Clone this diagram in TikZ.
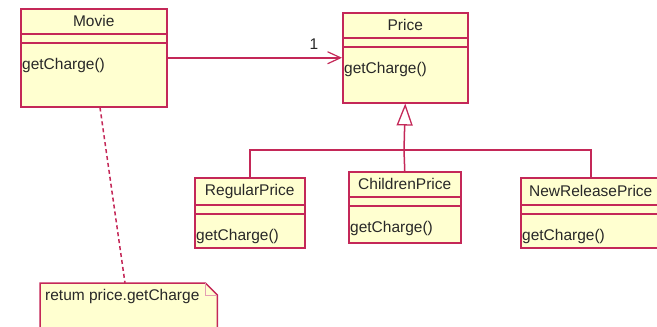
\documentclass[tikz,border=0pt]{standalone}
\usepackage{fontspec}
\setmainfont{Liberation Sans}
\usetikzlibrary{arrows.meta}
\definecolor{umlline}{RGB}{196,40,88}
\definecolor{umlfill}{RGB}{255,255,208}
\definecolor{umltext}{RGB}{40,40,40}
\begin{document}
\begin{tikzpicture}[x=1pt,y=-1pt,
  classbox/.style={draw=umlline,fill=umlfill,line width=1.5pt,rectangle,inner sep=0pt,anchor=north west},
  compline/.style={draw=umlline,line width=1.5pt},
  title/.style={text=umltext,font=\fontsize{15.5}{17}\selectfont,inner sep=0pt},
  oper/.style={text=umltext,font=\fontsize{15.5}{17}\selectfont,inner sep=0pt,anchor=west},
  conn/.style={draw=umlline,line width=1.5pt},
]
\useasboundingbox (0,0) rectangle (657,327);

% class box with name compartment, empty attribute compartment and one operation
\newcommand{\umlclass}[7]{%
  % #1 name, #2 x, #3 y, #4 w, #5 h, #6 title, #7 divider offset
  \node[classbox,minimum width=#4pt,minimum height=#5pt] (#1) at (#2,#3) {};
  \draw[compline] ([yshift=-#7pt]#1.north west) -- ([yshift=-#7pt]#1.north east);
  \draw[compline] ([yshift=-#7pt-9pt]#1.north west) -- ([yshift=-#7pt-9pt]#1.north east);
  \node[title] (#1-t) at ([yshift=-#7pt/2]#1.north) {#6};
  \node[oper] (#1-op) at ([xshift=2pt,yshift=-#7pt-31pt]#1.north west) {getCharge()};
}

\umlclass{movie}{20}{8}{146}{98}{Movie}{26}
\umlclass{price}{342}{12}{125}{90}{Price}{26}
\umlclass{regular}{194}{177}{110}{70}{RegularPrice}{28}
\umlclass{children}{348}{171}{112}{71}{ChildrenPrice}{26}
\umlclass{newrelease}{520}{177}{140}{70}{NewReleasePrice}{28}

% association Movie -> Price
\draw[conn,-{Straight Barb[length=13pt,width=12pt,line width=1.2pt]}] (movie.east) -- (price.west);
\node[title,anchor=south] (mult) at (314,50) {1};

% generalization tree
\coordinate (join) at (404,150);
\draw[conn] (regular.north) |- (join);
\draw[conn] (newrelease.north) |- (join);
\draw[conn] (children.north) -- (join);
\draw[conn,-{Triangle[open,length=22pt,width=16pt,line width=1.3pt,fill=white]}] (join) -- (price.south);

% note attached to Movie
\node[inner sep=0pt,minimum width=177pt,minimum height=50pt,anchor=north west] (note) at (40,283) {};
\draw[draw=umlline,fill=umlfill,line width=1.5pt]
  (note.south west) -- (note.north west) -- ([xshift=-12pt]note.north east)
  -- ([yshift=-12pt]note.north east) -- (note.south east);
\draw[draw=umlline!45,line width=0.8pt]
  ([xshift=-12pt]note.north east) |- ([yshift=-12pt]note.north east);
\node[oper] (note-t) at ([xshift=5pt,yshift=-13pt]note.north west) {retum price.getCharge};
\draw[conn,dashed,dash pattern=on 4pt off 3pt] ([xshift=80pt]movie.south west) -- ([xshift=85pt]note.north west);
\end{tikzpicture}
\end{document}
